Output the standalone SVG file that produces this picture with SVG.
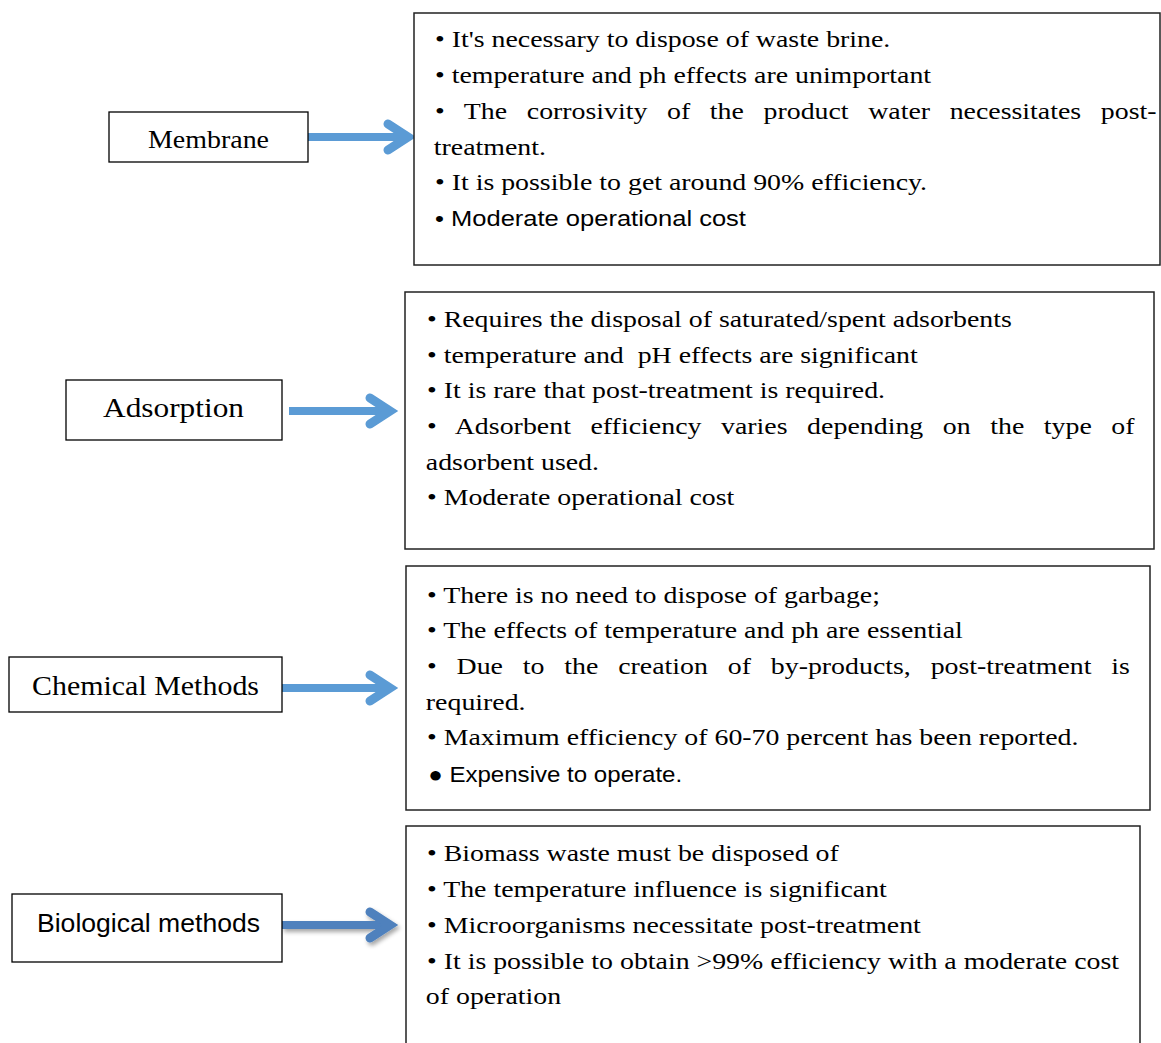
<svg xmlns="http://www.w3.org/2000/svg" width="1161" height="1043" viewBox="0 0 1161 1043">
<defs>
<style>
.lbl{fill:#fff;stroke:#000;stroke-width:1.3}
.box{fill:#fff;stroke:#222;stroke-width:1.5}
.serif{font-family:'Liberation Serif','Times New Roman',serif;fill:#000}
.body{font-size:24px}
.sans{font-family:'Liberation Sans',Arial,'DejaVu Sans',sans-serif;fill:#000}
.shaft{stroke:#5B9BD5;stroke-width:8;fill:none}
.head{stroke:#5B9BD5;stroke-width:9;fill:none;stroke-linecap:round;stroke-linejoin:miter}
.dark{stroke:#4F81BD}
</style>
<filter id="sh" x="-20%" y="-50%" width="140%" height="200%"><feDropShadow dx="2" dy="3" stdDeviation="2" flood-color="#000" flood-opacity="0.35"/></filter>
</defs>

<g id="connectors">
  <g id="arrow-membrane">
    <line class="shaft" x1="308" y1="137" x2="404" y2="137"/>
    <polyline class="head" points="388,124 408,137 388,150"/>
  </g>
  <g id="arrow-adsorption">
    <line class="shaft" x1="289" y1="411" x2="386" y2="411"/>
    <polyline class="head" points="370,398 390,411 370,424"/>
  </g>
  <g id="arrow-chemical">
    <line class="shaft" x1="282" y1="688" x2="386" y2="688"/>
    <polyline class="head" points="370,675 390,688 370,701"/>
  </g>
  <g id="arrow-biological" filter="url(#sh)">
    <line class="shaft dark" x1="282" y1="925" x2="386" y2="925"/>
    <polyline class="head dark" points="370,912 390,925 370,938"/>
  </g>
</g>

<g id="node-membrane">
  <rect class="lbl" x="109" y="112" width="199" height="50"/>
  <text class="serif" x="208.5" y="148" font-size="26" text-anchor="middle" textLength="121" lengthAdjust="spacingAndGlyphs">Membrane</text>
</g>
<g id="node-membrane-info">
  <rect class="box" x="414" y="13" width="746" height="252"/>
  <g transform="translate(435,0) scale(1.16,1)">
    <text class="serif body" x="0" y="47">• It's necessary to dispose of waste brine.</text>
    <text class="serif body" x="0" y="83">• temperature and ph effects are unimportant</text>
    <text class="serif body" x="0" y="119" word-spacing="10.9" textLength="622" lengthAdjust="spacing">• The corrosivity of the product water necessitates post-</text>
    <text class="serif body" x="-1" y="155">treatment.</text>
    <text class="serif body" x="0" y="190">• It is possible to get around 90% efficiency.</text>
    <text class="sans" x="0" y="226" font-size="22">• Moderate operational cost</text>
  </g>
</g>

<g id="node-adsorption">
  <rect class="lbl" x="66" y="380" width="216" height="60"/>
  <text class="serif" x="173.5" y="417" font-size="27" text-anchor="middle" textLength="141" lengthAdjust="spacingAndGlyphs">Adsorption</text>
</g>
<g id="node-adsorption-info">
  <rect class="box" x="405" y="292" width="749" height="257"/>
  <g transform="translate(427,0) scale(1.16,1)">
    <text class="serif body" x="0" y="327">• Requires the disposal of saturated/spent adsorbents</text>
    <text class="serif body" x="0" y="363" xml:space="preserve">• temperature and  pH effects are significant</text>
    <text class="serif body" x="0" y="398">• It is rare that post-treatment is required.</text>
    <text class="serif body" x="0" y="434" word-spacing="10.8" textLength="610" lengthAdjust="spacing">• Adsorbent efficiency varies depending on the type of</text>
    <text class="serif body" x="-1" y="470">adsorbent used.</text>
    <text class="serif body" x="0" y="505">• Moderate operational cost</text>
  </g>
</g>

<g id="node-chemical">
  <rect class="lbl" x="9" y="657" width="273" height="55"/>
  <text class="serif" x="145.5" y="695" font-size="27" text-anchor="middle" textLength="227" lengthAdjust="spacingAndGlyphs">Chemical Methods</text>
</g>
<g id="node-chemical-info">
  <rect class="box" x="406" y="566" width="744" height="244"/>
  <g transform="translate(427,0) scale(1.16,1)">
    <text class="serif body" x="0" y="603">• There is no need to dispose of garbage;</text>
    <text class="serif body" x="0" y="638">• The effects of temperature and ph are essential</text>
    <text class="serif body" x="0" y="674" word-spacing="11.1" textLength="606" lengthAdjust="spacing">• Due to the creation of by-products, post-treatment is</text>
    <text class="serif body" x="-1" y="710">required.</text>
    <text class="serif body" x="0" y="745">• Maximum efficiency of 60-70 percent has been reported.</text>
    <text class="sans" x="1" y="782" font-size="22" textLength="219" lengthAdjust="spacingAndGlyphs">● Expensive to operate.</text>
  </g>
</g>

<g id="node-biological">
  <rect class="lbl" x="12" y="894" width="270" height="68"/>
  <text class="sans" x="148.5" y="932" font-size="26" text-anchor="middle" textLength="223" lengthAdjust="spacingAndGlyphs">Biological methods</text>
</g>
<g id="node-biological-info">
  <rect class="box" x="406" y="826" width="734" height="230"/>
  <g transform="translate(427,0) scale(1.16,1)">
    <text class="serif body" x="0" y="861">• Biomass waste must be disposed of</text>
    <text class="serif body" x="0" y="897">• The temperature influence is significant</text>
    <text class="serif body" x="0" y="933">• Microorganisms necessitate post-treatment</text>
    <text class="serif body" x="0" y="969">• It is possible to obtain &gt;99% efficiency with a moderate cost</text>
    <text class="serif body" x="-1" y="1004">of operation</text>
  </g>
</g>
</svg>
